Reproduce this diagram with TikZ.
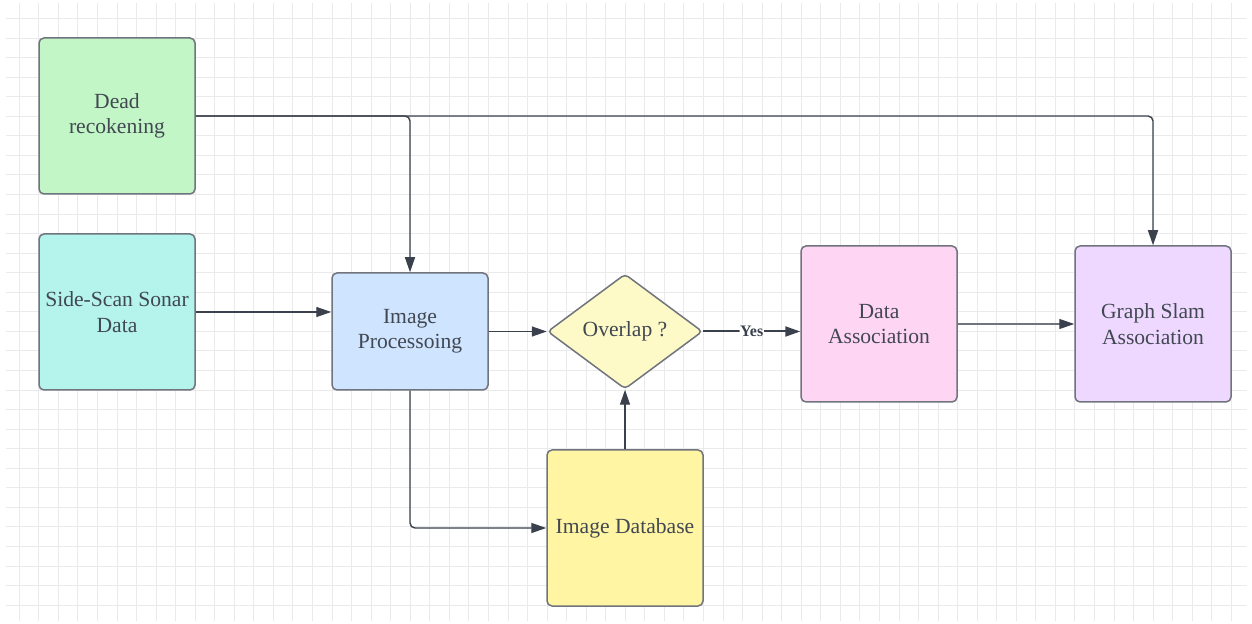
\documentclass[tikz,border=0pt]{standalone}
\usepackage{fontspec}
\setmainfont{Liberation Serif}
\usepackage{xcolor}
\usetikzlibrary{arrows.meta,shapes.geometric}
\definecolor{linea}{RGB}{58,64,76}
\definecolor{borde}{RGB}{112,116,124}
\definecolor{texto}{RGB}{66,72,82}
\definecolor{rejilla}{RGB}{234,234,236}
\definecolor{verde}{RGB}{194,246,199}
\definecolor{turquesa}{RGB}{180,244,236}
\definecolor{celeste}{RGB}{207,228,255}
\definecolor{crema}{RGB}{253,250,200}
\definecolor{amarillo}{RGB}{255,245,162}
\definecolor{rosa}{RGB}{255,213,244}
\definecolor{lila}{RGB}{238,216,255}

\tikzset{
  caja/.style={draw=borde,line width=0.75pt,rounded corners=2.5pt,
    minimum width=78pt,minimum height=78pt,inner sep=2pt,align=center,
    text=texto,font=\fontsize{10.8}{12.7}\selectfont},
  rombo/.style={caja,diamond,rounded corners=2pt,inner sep=0pt,
    minimum width=77.5pt,minimum height=57.5pt},
  flecha/.style={draw=linea,line width=0.7pt,rounded corners=2.5pt,
    -{Triangle[length=7.5pt,width=5pt,color=linea]}},
}

\begin{document}
\begin{tikzpicture}[x=0.5pt,y=-0.5pt]
  \useasboundingbox (0,0) rectangle (1252,624);
  \fill[white] (0,0) rectangle (1252,624);
  % cuadricula de fondo
  \foreach \i in {0,...,62}
    \draw[rejilla,line width=0.5pt] ({19.25+19.55*\i},3) -- ({19.25+19.55*\i},621);
  \foreach \j in {0,...,30}
    \draw[rejilla,line width=0.5pt] (6,{18.6+19.55*\j}) -- (1247,{18.6+19.55*\j});

  % bloques
  \node[caja,fill=verde] (dead) at (117,116) {Dead\\recokening};
  \node[caja,fill=turquesa] (sonar) at (117,312) {Side-Scan Sonar\\Data};
  \node[caja,fill=celeste,minimum height=58.5pt] (proc) at (410,331.5) {Image\\Processoing};
  \node[rombo,fill=crema] (overlap) at (625,331.5) {Overlap ?};
  \node[caja,fill=amarillo] (base) at (625,528) {Image Database};
  \node[caja,fill=rosa] (asoc) at (879,324) {Data\\Association};
  \node[caja,fill=lila] (slam) at (1153,324) {Graph Slam\\Association};

  % conexiones
  \draw[flecha] (dead.east) -| (proc.north);
  \draw[flecha] (dead.east) -| (slam.north);
  \draw[flecha] (sonar.east) -- (sonar.east -| proc.west);
  \draw[flecha] (proc.east) -- (overlap.west);
  \draw[flecha] (proc.south) |- (base.west);
  \draw[flecha] (base.north) -- (overlap.south);
  \draw[flecha,line width=1pt] (overlap.east) -- (overlap.east -| asoc.west)
    node[midway,fill=white,inner sep=0.3pt,text=linea,
      font=\fontsize{8}{9}\selectfont\bfseries] {Yes};
  \draw[flecha,draw=borde,line width=0.6pt] (asoc.east) -- (slam.west);
\end{tikzpicture}
\end{document}
